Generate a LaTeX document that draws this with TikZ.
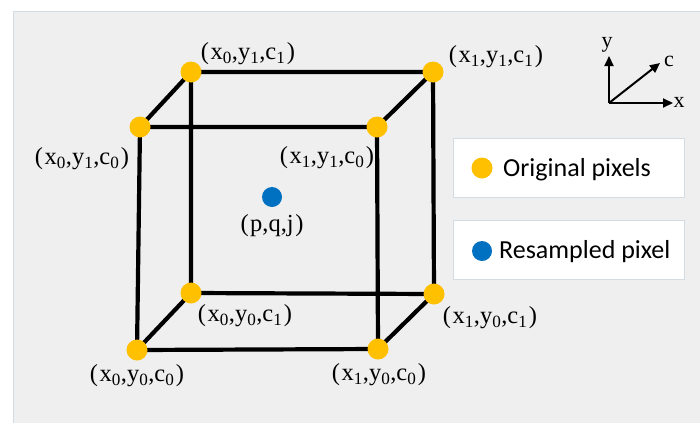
\documentclass[tikz,border=0pt]{standalone}
\usepackage{fontspec}
\setmainfont{Liberation Serif}
\newfontfamily\legfont{Carlito}
\usetikzlibrary{arrows.meta}
\definecolor{bgc}{HTML}{EFEFEF}
\definecolor{orng}{HTML}{FFC000}
\definecolor{blu}{HTML}{0070C0}
\definecolor{bord}{HTML}{D3DBE3}
\newcommand{\tri}[6]{(\kern1.5pt#1\textsubscript{#2},#3\textsubscript{#4},#5\textsubscript{#6}\kern1.5pt)}
\begin{document}
\begin{tikzpicture}[x=1pt,y=-1pt,
 edge/.style={line width=4.2pt},
 opix/.style={circle,fill=orng,minimum size=21pt,inner sep=0pt},
 rpix/.style={circle,fill=blu,minimum size=20pt,inner sep=0pt},
 lab/.style={font=\fontsize{24.5}{28}\selectfont,inner sep=0pt},
 axlab/.style={font=\fontsize{22}{26}\selectfont,inner sep=0pt},
 legbox/.style={draw=bord,fill=white,line width=0.8pt,minimum width=231pt,minimum height=59pt,inner sep=0pt},
 legtext/.style={font=\legfont\fontsize{26}{30}\selectfont,anchor=base west,inner sep=0pt},
 axis/.style={line width=2pt,-{Triangle[length=10pt,width=9pt]}}
]
\useasboundingbox (0,0) rectangle (700,423);
\fill[white] (0,0) rectangle (700,423);
\fill[bgc] (13,11) rectangle (700,423);
\draw[bord, line width=0.8pt] (13,423) -- (13,11) -- (700,11);

% corners
\coordinate (A) at (191,72);   % x0 y1 c1
\coordinate (B) at (433,72);   % x1 y1 c1
\coordinate (C) at (140,127);  % x0 y1 c0
\coordinate (D) at (377,127);  % x1 y1 c0
\coordinate (E) at (191,293);  % x0 y0 c1
\coordinate (F) at (434,294);  % x1 y0 c1
\coordinate (G) at (137,350);  % x0 y0 c0
\coordinate (H) at (378,349);  % x1 y0 c0

\draw[edge] (A) -- (B) (A) -- (C) (B) -- (D) (C) -- (D)
            (A) -- (E) (B) -- (F) (C) -- (G) (D) -- (H)
            (E) -- (F) (E) -- (G) (F) -- (H) (G) -- (H);

\foreach \p in {A,B,C,D,E,F,G,H} \node[opix] (n\p) at (\p) {};
\node[rpix] (res) at (272,197) {};

\node[lab] (lA) at (248,54) {\tri{x}{0}{y}{1}{c}{1}};
\node[lab] (lB) at (496,57) {\tri{x}{1}{y}{1}{c}{1}};
\node[lab] (lC) at (82,159) {\tri{x}{0}{y}{1}{c}{0}};
\node[lab] (lD) at (327,158) {\tri{x}{1}{y}{1}{c}{0}};
\node[lab] (lE) at (245,316) {\tri{x}{0}{y}{0}{c}{1}};
\node[lab] (lF) at (490,318) {\tri{x}{1}{y}{0}{c}{1}};
\node[lab] (lG) at (137,376) {\tri{x}{0}{y}{0}{c}{0}};
\node[lab] (lH) at (379,375) {\tri{x}{1}{y}{0}{c}{0}};
\node[lab] (lres) at (272,226) {(\kern1.5pt p,q,j\kern1.5pt)};

% axes
\coordinate (o) at (609,103);
\coordinate (ty) at (609,56);
\coordinate (tx) at (673,103);
\coordinate (tc) at (660,63);
\draw[axis] (o) -- (ty);
\draw[axis] (o) -- (tx);
\draw[axis] (o) -- (tc);
\node[axlab] (ly) at (607,45) {y};
\node[axlab] (lx) at (679,102) {x};
\node[axlab] (lc) at (669,61) {c};

% legend
\node[legbox] (leg1) at (568.5,167.5) {};
\node[opix] (lo) at (482,168) {};
\node[legtext] (lot) at (503,176) {Original pixels};
\node[legbox] (leg2) at (568.5,250) {};
\node[rpix] (lr) at (482,251) {};
\node[legtext] (lrt) at (499,258) {Resampled pixel};
\end{tikzpicture}
\end{document}
